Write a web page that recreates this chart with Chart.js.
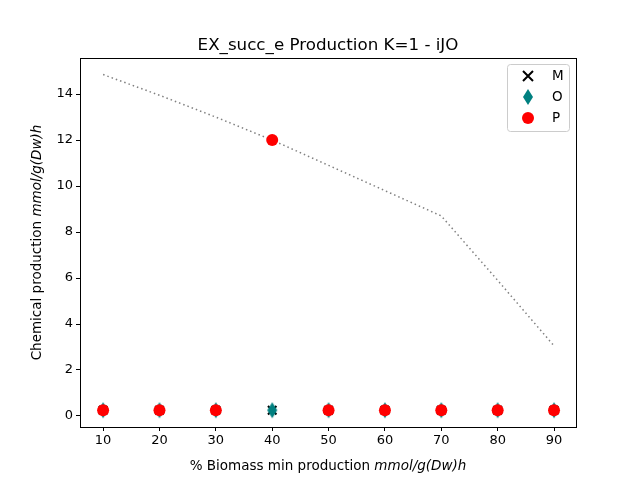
<!DOCTYPE html>
<html>
<head>
<meta charset="utf-8">
<script src="https://cdn.jsdelivr.net/npm/chart.js@4"></script>
<style>
  html, body { margin: 0; padding: 0; background: #fff; }
  #wrap { width: 640px; height: 480px; }
</style>
</head>
<body>
<div id="wrap"><canvas id="c" width="640" height="480"></canvas></div>
<script>
const biomass = [10, 20, 30, 40, 50, 60, 70, 80, 90];
const frontier = [14.85, 13.95, 13.0, 12.0, 10.9, 9.8, 8.7, 5.9, 3.05];
const seriesM = [0.25, 0.25, 0.25, 0.25, 0.25, 0.25, 0.25, 0.25, 0.25];
const seriesO = [0.25, 0.25, 0.25, 0.25, 0.25, 0.25, 0.25, 0.25, 0.25];
const seriesP = [0.25, 0.25, 0.25, 12.0, 0.25, 0.25, 0.25, 0.25, 0.25];
const chartTitle = "EX_succ_e Production K=1 - iJO";

const FONT = "'DejaVu Sans', sans-serif";
const pts = (ys) => biomass.map((x, i) => ({ x: x, y: ys[i] }));

function drawDiamond(ctx, x, y) {
  ctx.beginPath();
  ctx.moveTo(x, y - 8); ctx.lineTo(x + 5, y); ctx.lineTo(x, y + 8); ctx.lineTo(x - 5, y);
  ctx.closePath(); ctx.fill();
}
const diamond = document.createElement("canvas");
diamond.width = 12; diamond.height = 18;
{
  const d = diamond.getContext("2d");
  d.fillStyle = "#008080";
  drawDiamond(d, 6, 9);
}

const mpl = {
  id: "mpl",
  afterDraw(chart) {
    const { ctx, chartArea: a } = chart;
    ctx.save();
    ctx.strokeStyle = "#000";
    ctx.lineWidth = 1;
    ctx.strokeRect(a.left + 0.5, a.top + 0.5, a.right - a.left, a.bottom - a.top);

    ctx.fillStyle = "#000";
    ctx.textAlign = "center";
    ctx.textBaseline = "alphabetic";
    ctx.font = "16.7px " + FONT;
    ctx.fillText(chartTitle, (a.left + a.right) / 2, 50);

    const mixed = (parts, cx, cy) => {
      let w = 0;
      parts.forEach((p) => { ctx.font = p[1] + "13.5px " + FONT; w += ctx.measureText(p[0]).width; });
      let x = cx - w / 2;
      ctx.textAlign = "left";
      parts.forEach((p) => { ctx.font = p[1] + "13.5px " + FONT; ctx.fillText(p[0], x, cy); x += ctx.measureText(p[0]).width; });
    };
    mixed([["% Biomass min production ", ""], ["mmol/g(Dw)h", "italic "]], (a.left + a.right) / 2, 470);
    ctx.save();
    ctx.translate(41, (a.top + a.bottom) / 2);
    ctx.rotate(-Math.PI / 2);
    mixed([["Chemical production ", ""], ["mmol/g(Dw)h", "italic "]], 0, 0);
    ctx.restore();

    // legend box
    const lx = 507, ly = 64, lw = 62, lh = 67;
    ctx.fillStyle = "rgba(255,255,255,0.8)";
    ctx.strokeStyle = "#ccc";
    ctx.beginPath();
    ctx.roundRect(lx + 0.5, ly + 0.5, lw, lh, 3);
    ctx.fill(); ctx.stroke();
    const items = [["M", "x"], ["O", "d"], ["P", "o"]];
    items.forEach((it, i) => {
      const y = ly + 12 + i * 21;
      const mx = lx + 21;
      if (it[1] === "x") {
        ctx.strokeStyle = "#000"; ctx.lineWidth = 2;
        ctx.beginPath();
        ctx.moveTo(mx - 5, y - 5); ctx.lineTo(mx + 5, y + 5);
        ctx.moveTo(mx + 5, y - 5); ctx.lineTo(mx - 5, y + 5);
        ctx.stroke();
      } else if (it[1] === "d") {
        ctx.fillStyle = "#008080";
        drawDiamond(ctx, mx, y);
      } else {
        ctx.fillStyle = "#ff0000";
        ctx.beginPath(); ctx.arc(mx, y, 6, 0, Math.PI * 2); ctx.fill();
      }
      ctx.fillStyle = "#000";
      ctx.font = "13.5px " + FONT;
      ctx.textAlign = "left";
      ctx.textBaseline = "middle";
      ctx.fillText(it[0], lx + 45, y);
    });
    ctx.restore();
  },
};

new Chart(document.getElementById("c"), {
  type: "scatter",
  data: {
    datasets: [
      {
        label: "frontier",
        order: 3,
        data: pts(frontier),
        showLine: true,
        borderColor: "#808080",
        borderWidth: 1.5,
        borderDash: [1.5, 3],
        pointRadius: 0,
        tension: 0,
      },
      {
        label: "M",
        order: 2,
        data: pts(seriesM),
        pointStyle: "crossRot",
        pointRadius: 6,
        borderColor: "#000",
        borderWidth: 2,
      },
      {
        label: "O",
        order: 1,
        data: pts(seriesO),
        pointStyle: diamond,
        pointRadius: 6,
        backgroundColor: "#008080",
        borderColor: "#008080",
      },
      {
        label: "P",
        order: 0,
        data: pts(seriesP),
        pointStyle: "circle",
        pointRadius: 6,
        backgroundColor: "#ff0000",
        borderColor: "#ff0000",
        borderWidth: 0,
      },
    ],
  },
  options: {
    responsive: false,
    animation: false,
    layout: { padding: { top: 58, right: 64, left: 0, bottom: 0 } },
    plugins: { legend: { display: false }, tooltip: { enabled: false } },
    scales: {
      x: {
        type: "linear",
        min: 5.9,
        max: 93.9,
        afterFit: (s) => { s.height = 53; },
        afterBuildTicks: (s) => { s.ticks = biomass.map((v) => ({ value: v })); },
        grid: { drawOnChartArea: false, color: "#000", tickLength: 4 },
        border: { display: false },
        ticks: { color: "#000", font: { family: FONT, size: 13 }, padding: 2 },
      },
      y: {
        min: -0.48,
        max: 15.57,
        afterFit: (s) => { s.width = 80; },
        afterBuildTicks: (s) => { s.ticks = [0, 2, 4, 6, 8, 10, 12, 14].map((v) => ({ value: v })); },
        grid: { drawOnChartArea: false, color: "#000", tickLength: 4 },
        border: { display: false },
        ticks: { color: "#000", font: { family: FONT, size: 13 }, padding: 3 },
      },
    },
  },
  plugins: [mpl],
});
</script>
</body>
</html>
